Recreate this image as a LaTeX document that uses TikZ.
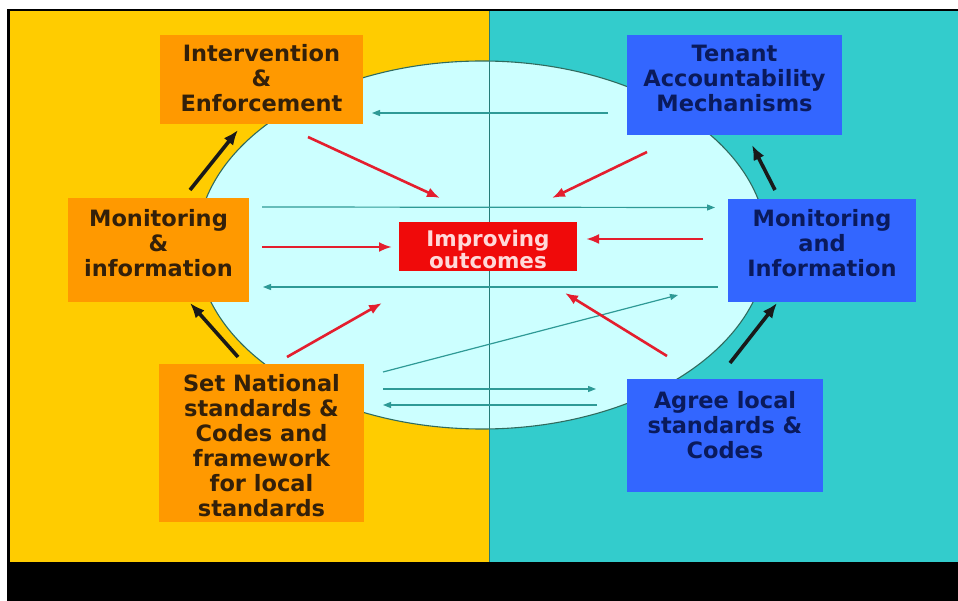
\documentclass[tikz,border=0pt]{standalone}
\usepackage{fontspec}
\usepackage{tikz}
\usetikzlibrary{arrows.meta}
\usetikzlibrary{positioning}
\usetikzlibrary{calc}
\newfontfamily\boxfont{DejaVu Sans}
\definecolor{panel yellow}{HTML}{FFCC00}
\definecolor{panel teal}{HTML}{33CCCC}
\definecolor{box orange}{HTML}{FF9900}
\definecolor{box blue}{HTML}{3366FF}
\definecolor{box red}{HTML}{F00A0A}
\definecolor{brown ink}{HTML}{33200A}
\definecolor{navy ink}{HTML}{0A1A5C}
\definecolor{flow teal}{HTML}{2E9A96}
\definecolor{arrow red}{HTML}{E41E2E}
\definecolor{light cyan}{HTML}{CCFFFF}
\definecolor{rim}{HTML}{2F6B5E}
\tikzstyle{box}=[rectangle,inner sep=0pt,outer sep=0pt]
\tikzstyle{box text}=[align=center,font=\boxfont\bfseries\fontsize{22.5}{25}\selectfont]

\begin{document}
\begin{tikzpicture}[
  x=1pt,y=-1pt,
  orange box/.style={box,fill=box orange},
  blue box/.style={box,fill=box blue},
  red box/.style={box,fill=box red},
  cycle arrow/.style={line width=3.6pt,black!90,-{Latex[length=15pt,width=12pt]}},
  red arrow/.style={line width=2.6pt,arrow red,-{Latex[length=13pt,width=10pt]}},
  flow/.style={line width=1.2pt,flow teal,-{Triangle[length=8pt,width=6pt]}},
]
  \useasboundingbox (0,0) rectangle (958,601);

  % frame and the two halves
  \fill[white] (0,0) rectangle (958,601);
  \fill[black] (7,9) rectangle (958,601);
  \fill[panel yellow] (10,11) rectangle (489,562);
  \fill[panel teal] (489,11) rectangle (958,562);

  % the shared ground in the middle
  \draw[fill=light cyan,draw=rim,line width=1.1pt] (482,245) ellipse [x radius=285,y radius=184];
  \draw[flow teal!80!black,line width=0.8pt] (489,11) -- (489,562);

  % left side
  \node[orange box,minimum width=203,minimum height=89,
        label={[box text,text=brown ink,yshift=1.5pt]center:Intervention\\\&\\Enforcement}] (interv) at (261.5,79.5) {};
  \node[orange box,minimum width=181,minimum height=104,
        label={[box text,text=brown ink,yshift=7pt]center:Monitoring\\\&\\information}] (monl) at (158.5,250) {};
  \node[orange box,minimum width=205,minimum height=158,
        label={[box text,text=brown ink,yshift=-2.5pt]center:Set National\\standards \&\\Codes and\\framework\\for local\\standards}] (natstd) at (261.5,443) {};

  % right side
  \node[blue box,minimum width=215,minimum height=100,
        label={[box text,text=navy ink,yshift=7pt]center:Tenant\\Accountability\\Mechanisms}] (tenant) at (734.5,85) {};
  \node[blue box,minimum width=188,minimum height=103,
        label={[box text,text=navy ink,yshift=7.5pt]center:Monitoring\\and\\Information}] (monr) at (822,250.5) {};
  \node[blue box,minimum width=196,minimum height=113,
        label={[box text,text=navy ink,yshift=10pt]center:Agree local\\standards \&\\Codes}] (localstd) at (725,435.5) {};

  % centre
  \node[red box,minimum width=178,minimum height=49,
        label={[align=center,text=red!15,yshift=-2.5pt,font=\boxfont\bfseries\fontsize{21.5}{22}\selectfont]center:Improving\\outcomes}] (improve) at (488,246.5) {};

  % information flows across the middle
  \draw[flow] ($(tenant.west)+(-19,28)$) -- ($(interv.east)+(9,33.5)$);
  \draw[flow] ($(monl.east)+(13,-43)$) -- ($(monr.west)+(-13,-43)$);
  \draw[flow] ($(monr.west)+(-10,36.5)$) -- ($(monl.east)+(14,37)$);
  \draw[flow] ($(natstd.east)+(19,-71)$) -- ($(monr.west)+(-50,44.5)$);
  \draw[flow] ($(natstd.east)+(19,-54)$) -- ($(localstd.west)+(-31,-46.5)$);
  \draw[flow] ($(localstd.west)+(-30,-30.5)$) -- ($(natstd.east)+(19,-38)$);

  % everything feeds the outcomes
  \draw[red arrow] ($(interv.south)+(46.5,13)$) -- ($(improve.north)+(-48,-24)$);
  \draw[red arrow] ($(tenant.south)+(-87.5,17)$) -- ($(improve.north)+(64,-24)$);
  \draw[red arrow] ($(monl.east)+(13,-3)$) -- ($(improve.west)+(-7,0.5)$);
  \draw[red arrow] ($(monr.west)+(-25,-11.5)$) -- ($(improve.east)+(9,-7.5)$);
  \draw[red arrow] ($(natstd.north)+(25.5,-7)$) -- ($(improve.south)+(-106,32)$);
  \draw[red arrow] ($(localstd.north)+(-58,-23)$) -- ($(improve.south)+(77,22)$);

  % the two cycles round the edge
  \draw[cycle arrow] ($(natstd.north)+(-23.5,-7)$) -- ($(monl.south)+(31.5,1)$);
  \draw[cycle arrow] ($(monl.north)+(31.5,-8)$) -- ($(interv.south)+(-23.5,6)$);
  \draw[cycle arrow] ($(localstd.north)+(5,-16)$) -- ($(monr.south)+(-45,1)$);
  \draw[cycle arrow] ($(monr.north)+(-47,-9)$) -- ($(tenant.south)+(17.5,10)$);
\end{tikzpicture}
\end{document}
